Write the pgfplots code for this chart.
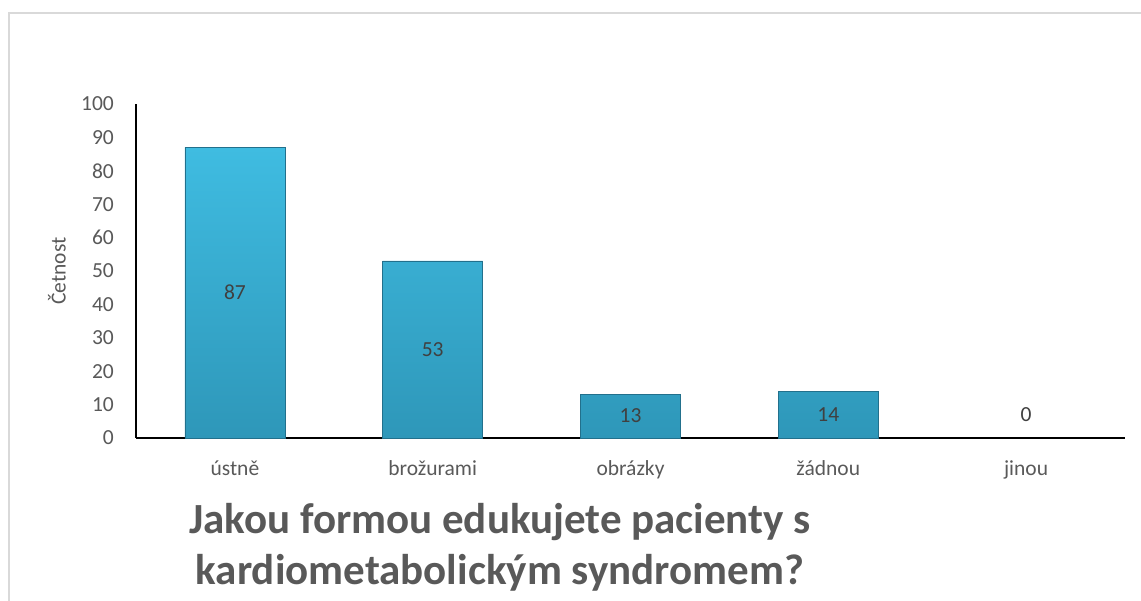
\documentclass[border=0pt]{standalone}
\usepackage{pgfplots}
\pgfplotsset{compat=1.18}
\usepackage{fontspec}
\setmainfont{Carlito}
\definecolor{tickgray}{HTML}{595959}
\definecolor{valgray}{HTML}{404040}
\definecolor{framegray}{HTML}{D9D9D9}
\definecolor{bartop}{HTML}{3FBCE1}
\definecolor{barbot}{HTML}{2E97B9}
\definecolor{baredge}{HTML}{22708C}
\begin{document}
\begin{tikzpicture}
\useasboundingbox (0,0) rectangle (1141bp,601bp);
\draw[line width=2.5bp, color=framegray] (9bp,0) -- (9bp,588bp) -- (1141bp,588bp);
\begin{axis}[
  at={(136bp,163bp)}, anchor=south west,
  scale only axis, width=989bp, height=334bp,
  xmin=-0.5, xmax=4.5, ymin=0, ymax=100,
  ytick={0,10,...,100},
  xtick={0,1,2,3,4},
  xticklabels={ústně, brožurami, obrázky, žádnou, jinou},
  axis x line*=bottom, axis y line*=left,
  x axis line style={line width=2bp, -},
  y axis line style={line width=1.2bp, -},
  major tick length=0pt,
  /pgf/number format/assume math mode=true,
  tick label style={font=\fontsize{21.5bp}{25bp}\selectfont, text=tickgray},
  yticklabel style={inner sep=0pt, anchor=east, xshift=-22bp},
  xticklabel style={inner sep=0pt, anchor=base, yshift=-38bp},
  ylabel={Četnost},
  every axis y label/.style={at={(axis description cs:-0.08,0.5)}, rotate=90, anchor=center, font=\fontsize{21.5bp}{25bp}\selectfont, text=tickgray},
  clip=false,
]
\addplot[ybar, bar width=100bp, draw=baredge, line width=0.8bp, top color=bartop, bottom color=barbot]
  coordinates {(0,87) (1,53) (2,13) (3,14)};
\addplot[only marks, mark=none, nodes near coords, point meta=explicit symbolic,
  every node near coord/.style={anchor=center, font=\fontsize{21.5bp}{25bp}\selectfont, text=valgray}]
  coordinates {(0,43.5)[87] (1,26.5)[53] (2,6.8)[13] (3,7.1)[14] (4,7.1)[0]};
\end{axis}
\node[align=center, font=\fontsize{43bp}{51bp}\selectfont\bfseries, text=tickgray] at (500bp,53.5bp)
  {Jakou formou edukujete pacienty s\\kardiometabolickým syndromem?};
\end{tikzpicture}
\end{document}
